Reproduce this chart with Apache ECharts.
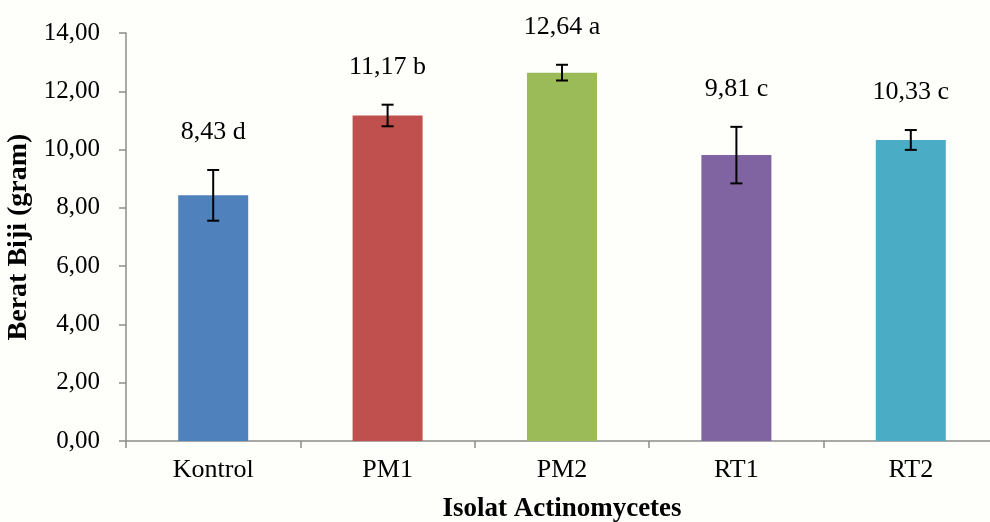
<!DOCTYPE html>
<html>
<head>
<meta charset="utf-8">
<script src="https://cdn.jsdelivr.net/npm/echarts@6/dist/echarts.min.js"></script>
<style>
  html, body { margin: 0; padding: 0; background: #fefefb; }
  #chart { width: 990px; height: 522px; }
</style>
</head>
<body>
<div id="chart"></div>
<script>
// data
var kategori = ['Kontrol', 'PM1', 'PM2', 'RT1', 'RT2'];
var rata = [8.43, 11.17, 12.64, 9.81, 10.33];
var galat = [0.87, 0.37, 0.27, 0.97, 0.34];
var notasi = ['d', 'b', 'a', 'c', 'c'];
var warna = ['#4F81BD', '#C0504D', '#9BBB59', '#8064A2', '#4BACC6'];

var serif = '"Liberation Serif", "Times New Roman", serif';

function koma(v) {
    return v.toFixed(2).replace('.', ',');
}

var batang = rata.map(function (v, i) {
    return { value: v, itemStyle: { color: warna[i] } };
});
var errData = rata.map(function (v, i) {
    return [i, v - galat[i], v + galat[i], v];
});

var myChart = echarts.init(document.getElementById('chart'));
var option = {
    backgroundColor: '#fefefb',
    animation: false,
    grid: { left: 126, top: 33, width: 872, height: 408, outerBoundsMode: 'none', containLabel: false },
    xAxis: {
        type: 'category',
        data: kategori,
        name: 'Isolat Actinomycetes',
        nameLocation: 'middle',
        nameGap: 55,
        nameTextStyle: { color: '#000', fontFamily: serif, fontSize: 27, fontWeight: 'bold' },
        axisLine: { lineStyle: { color: '#8c8c8c', width: 1.5 } },
        axisTick: { show: true, length: 7, lineStyle: { color: '#8c8c8c', width: 1.5 } },
        axisLabel: { color: '#000', fontFamily: serif, fontSize: 26, margin: 16 }
    },
    yAxis: {
        type: 'value',
        min: 0,
        max: 14,
        interval: 2,
        name: 'Berat Biji (gram)',
        nameLocation: 'middle',
        nameGap: 90,
        nameTextStyle: { color: '#000', fontFamily: serif, fontSize: 28, fontWeight: 'bold' },
        axisLine: { show: true, lineStyle: { color: '#8c8c8c', width: 1.5 } },
        axisTick: { show: true, length: 7, lineStyle: { color: '#8c8c8c', width: 1.5 } },
        splitLine: { show: false },
        axisLabel: {
            color: '#000', fontFamily: serif, fontSize: 25, margin: 26,
            formatter: function (v) { return koma(v); }
        }
    },
    series: [
        {
            type: 'bar',
            data: batang,
            barWidth: 70
        },
        {
            type: 'custom',
            data: errData,
            z: 10,
            renderItem: function (params, api) {
                var i = api.value(0);
                var atas = api.coord([i, api.value(2)]);
                var bawah = api.coord([i, api.value(1)]);
                var cap = 6;
                var s = { stroke: '#000', lineWidth: 2 };
                var idx = params.dataIndex;
                return {
                    type: 'group',
                    children: [
                        { type: 'line', shape: { x1: atas[0], y1: atas[1], x2: bawah[0], y2: bawah[1] }, style: s },
                        { type: 'line', shape: { x1: atas[0] - cap, y1: atas[1], x2: atas[0] + cap, y2: atas[1] }, style: s },
                        { type: 'line', shape: { x1: bawah[0] - cap, y1: bawah[1], x2: bawah[0] + cap, y2: bawah[1] }, style: s },
                        {
                            type: 'text',
                            style: {
                                text: koma(rata[idx]) + ' ' + notasi[idx],
                                x: atas[0],
                                y: atas[1] - 38,
                                align: 'center',
                                verticalAlign: 'middle',
                                fontFamily: serif,
                                fontSize: 26,
                                fill: '#000'
                            }
                        }
                    ]
                };
            }
        }
    ]
};
myChart.setOption(option);
window.addEventListener('resize', function () {
    myChart.resize();
});
</script>
</body>
</html>
